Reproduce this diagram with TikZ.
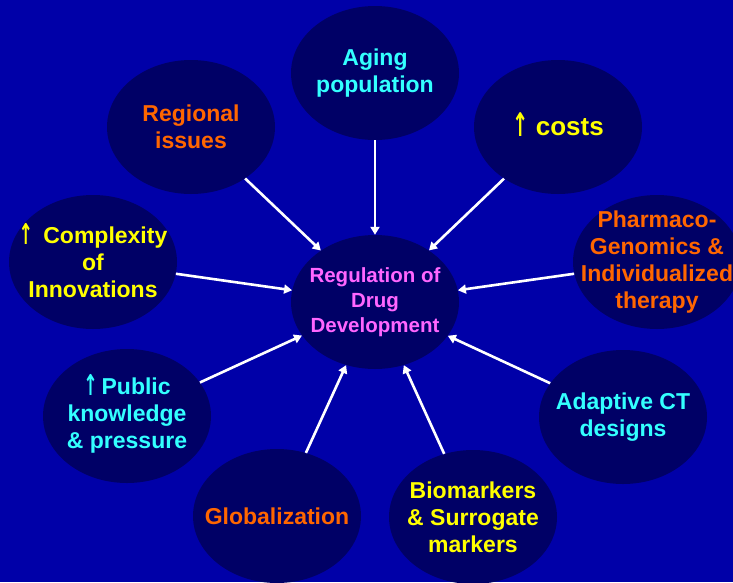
\documentclass[tikz,border=0pt]{standalone}
\usepackage{fontspec}
\setmainfont{Liberation Sans}
\newfontfamily\arrowfont{DejaVu Sans}
\usepackage{tikz}
\usetikzlibrary{shapes.geometric,arrows.meta}
\definecolor{sky}{HTML}{0000A8}
\definecolor{navy}{HTML}{000066}
\definecolor{aqua}{HTML}{33FFFF}
\definecolor{gold}{HTML}{FFFF00}
\definecolor{rust}{HTML}{FF6600}
\definecolor{pinkish}{HTML}{FF66FF}
\newcommand{\upmark}{\smash{\raisebox{-1pt}{\scalebox{0.75}[1.25]{\arrowfont\bfseries ↑}}}}

\begin{document}
\begin{tikzpicture}[x=1pt,y=-1pt,
  bubble/.style={ellipse,fill=navy,inner sep=0pt,minimum width=168pt,minimum height=134pt},
  lbl/.style={align=center,font=\bfseries\fontsize{23}{27}\selectfont,inner sep=0pt},
  feed/.style={white,line width=2.6pt,-{Triangle[length=8pt,width=9pt]}}]
  \useasboundingbox (0,0) rectangle (733,582);
  \fill[sky] (0,0) rectangle (733,582);
  \clip (0,0) rectangle (733,582);
  % hub
  \node[bubble] (reg) at (375,302) {};
  \node[lbl,text=pinkish,font=\bfseries\fontsize{20.5}{25}\selectfont] (reg-t) at (reg) {Regulation of\\Drug\\Development};
  % factors around it
  \foreach \n/\x/\y/\c/\t in {
     aging/375/73/aqua/{Aging\\population},
     region/191/127/rust/{Regional\\issues},
     costs/558/127/gold/{\fontsize{26}{30}\selectfont \upmark\ costs},
     complex/93/262/gold/{\upmark\ \,Complexity\\of\\Innovations},
     pharma/657/262/rust/{Pharmaco-\\Genomics \&\\Individualized\\therapy},
     public/127/416/aqua/{\upmark\,Public\\knowledge\\\& pressure},
     adapt/623/417/aqua/{Adaptive CT\\designs},
     global/277/516/rust/{Globalization},
     biom/473/517/gold/{Biomarkers\\\& Surrogate\\markers}}{
    \node[bubble] (\n) at (\x,\y) {};
    \node[lbl,text=\c] (\n-t) at (\n) {\t};
    \draw[feed] (\n) -- (reg);
  }
\end{tikzpicture}
\end{document}
